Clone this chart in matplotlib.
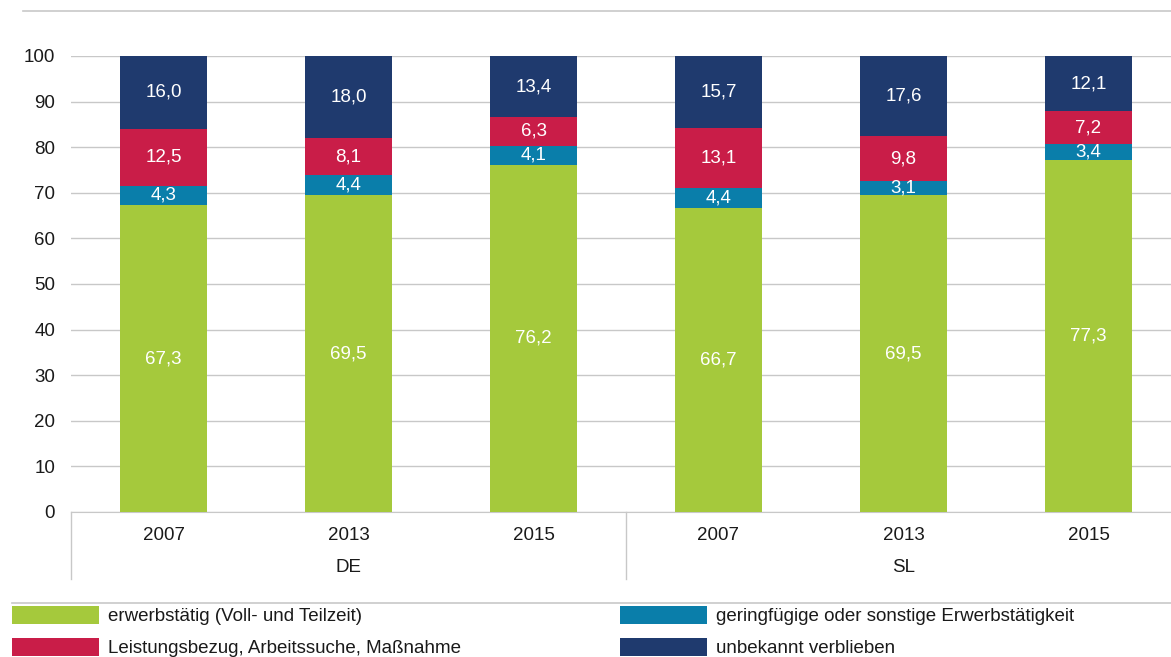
import numpy as np
import matplotlib.pyplot as plt
from matplotlib.lines import Line2D
from matplotlib.patches import Patch

plt.rcParams['font.family'] = ['Liberation Sans', 'DejaVu Sans']

# Daten
jahre = ['2007', '2013', '2015', '2007', '2013', '2015']
gruppen = ['DE', 'SL']
erwerbstaetig = [67.3, 69.5, 76.2, 66.7, 69.5, 77.3]
geringfuegig = [4.3, 4.4, 4.1, 4.4, 3.1, 3.4]
leistungsbezug = [12.5, 8.1, 6.3, 13.1, 9.8, 7.2]
unbekannt = [16.0, 18.0, 13.4, 15.7, 17.6, 12.1]

serien = [
    ('erwerbstätig (Voll- und Teilzeit)', erwerbstaetig, '#a5c93c'),
    ('geringfügige oder sonstige Erwerbstätigkeit', geringfuegig, '#0a7eaa'),
    ('Leistungsbezug, Arbeitssuche, Maßnahme', leistungsbezug, '#c91d48'),
    ('unbekannt verblieben', unbekannt, '#1f3a6e'),
]

FS = 13.5
W, H = 1171, 657
fig = plt.figure(figsize=(W / 100, H / 100), dpi=100)
ax = fig.add_axes([71 / W, 1 - 512 / H, 1110 / W, 456 / H])

x = np.arange(len(jahre))
bottom = np.zeros(len(jahre))
for name, werte, farbe in serien:
    werte = np.array(werte)
    ax.bar(x, werte, 0.47, bottom=bottom, color=farbe, zorder=3, label=name)
    for xi, b, v in zip(x, bottom, werte):
        ax.text(xi, b + v / 2, f'{v:.1f}'.replace('.', ','), ha='center', va='center',
                color='white', fontsize=FS, zorder=4)
    bottom += werte

ax.set_xlim(-0.5, 5.5)
ax.set_ylim(0, 100)
ax.set_yticks(range(0, 101, 10))
ax.set_xticks(x)
ax.set_xticklabels(jahre)
ax.tick_params(axis='both', length=0, labelsize=FS, colors='#1a1a1a')
ax.tick_params(axis='y', pad=11.5)
ax.tick_params(axis='x', pad=10.5)
ax.yaxis.grid(True, color='#c8c8c8', linewidth=1, zorder=0)
for s in ['left', 'right', 'top']:
    ax.spines[s].set_visible(False)
ax.spines['bottom'].set_color('#c8c8c8')

# Gruppenbeschriftung und Trennlinien
for xs in [-0.5, 2.5, 5.5]:
    ax.axvline(xs, ymin=-67 / 456, ymax=0, color='#c8c8c8', linewidth=1, clip_on=False)
for i, g in enumerate(gruppen):
    ax.text(1 + 3 * i, -56 / 456, g, transform=ax.get_xaxis_transform(),
            ha='center', va='center', fontsize=FS, color='#1a1a1a')

# Linien oben und über der Legende
fig.add_artist(Line2D([23 / W, 1], [1 - 11 / H] * 2, color='#c8c8c8', linewidth=1.2))
fig.add_artist(Line2D([12 / W, 1], [1 - 603 / H] * 2, color='#c8c8c8', linewidth=1.2))

# Legende in zwei Spalten
def legende(items, x0):
    handles = [Patch(facecolor=c, edgecolor='none') for _, _, c in items]
    labels = [n for n, _, _ in items]
    lg = fig.legend(handles, labels, loc='upper left', bbox_to_anchor=(x0 / W, 1 - 606 / H),
                    frameon=False, fontsize=FS, handlelength=4.64, handleheight=1.12,
                    handletextpad=0.48, labelspacing=0.66, borderpad=0, borderaxespad=0)
    for t in lg.get_texts():
        t.set_color('#1a1a1a')
    return lg

legende([serien[0], serien[2]], 12)
legende([serien[1], serien[3]], 620)

fig.savefig('out.png', dpi=100)
